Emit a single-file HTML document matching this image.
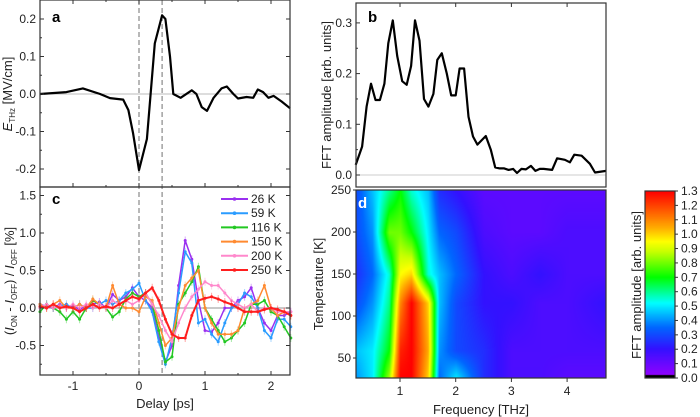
<!DOCTYPE html>
<html><head><meta charset="utf-8"><style>
body{margin:0;background:#fff;width:700px;height:417px;overflow:hidden;position:relative;font-family:"Liberation Sans",sans-serif}
#hm{position:absolute;left:356px;top:190px}
#cb{position:absolute;left:645px;top:191px}
svg{position:absolute;left:0;top:0}
</style></head><body>
<canvas id="hm" width="250" height="188"></canvas>
<canvas id="cb" width="30" height="187"></canvas>
<svg id="s" width="700" height="417" xmlns="http://www.w3.org/2000/svg" font-family="Liberation Sans, sans-serif" font-size="12"></svg>
<script>
// ---- Panel a data ----
const aT=[-1.5,-1.1,-0.85,-0.59,-0.44,-0.24,-0.16,-0.09,0.0,0.12,0.24,0.35,0.4,0.47,0.52,0.63,0.8,0.87,0.95,1.03,1.13,1.25,1.33,1.43,1.5,1.63,1.73,1.8,1.88,1.96,2.04,2.16,2.29];
const aE=[0.0,0.005,0.015,0.0,-0.011,-0.015,-0.043,-0.105,-0.203,-0.12,0.135,0.21,0.2,0.1,0.0,-0.01,0.01,0.0,-0.035,-0.045,-0.01,0.015,0.02,0.0,-0.012,-0.008,-0.01,0.012,0.005,-0.01,-0.005,-0.02,-0.038];
// ---- Panel b data ----
const bF=[0.205,0.32,0.4,0.48,0.56,0.64,0.72,0.79,0.87,0.95,1.04,1.12,1.2,1.27,1.35,1.43,1.51,1.6,1.67,1.75,1.84,1.92,2.0,2.07,2.15,2.23,2.31,2.39,2.54,2.63,2.71,2.79,2.87,2.95,3.03,3.1,3.18,3.26,3.35,3.43,3.51,3.58,3.73,3.82,3.96,4.05,4.13,4.26,4.41,4.5,4.7];
const bA=[0.02,0.056,0.135,0.18,0.148,0.148,0.18,0.26,0.305,0.235,0.185,0.178,0.215,0.305,0.265,0.15,0.135,0.16,0.227,0.24,0.2,0.157,0.157,0.21,0.21,0.115,0.076,0.06,0.077,0.05,0.015,0.013,0.013,0.01,0.012,0.004,0.012,0.011,0.018,0.008,0.012,0.012,0.01,0.033,0.03,0.025,0.04,0.038,0.022,0.005,0.008];
// ---- Panel c data ----
const cT=[-1.5,-1.4,-1.3,-1.2,-1.1,-1.0,-0.9,-0.8,-0.7,-0.6,-0.5,-0.4,-0.3,-0.2,-0.1,0.0,0.1,0.2,0.3,0.4,0.5,0.6,0.7,0.8,0.9,1.0,1.1,1.2,1.3,1.4,1.5,1.6,1.7,1.8,1.9,2.0,2.1,2.2,2.3];
const cLabels=["26 K","59 K","116 K","150 K","200 K","250 K"];
const c26=[0.05,0.02,0.0,0.05,0.0,0.03,-0.02,0.03,0.05,0.08,0.0,0.18,0.1,0.15,0.27,0.15,0.1,0.0,-0.4,-0.72,-0.5,0.3,0.9,0.65,0.1,-0.3,-0.32,-0.2,0.0,0.0,0.1,0.15,0.27,0.0,-0.2,-0.3,-0.1,-0.1,-0.05];
const c59=[0.0,0.05,0.0,0.03,0.05,0.0,0.05,0.0,0.0,0.05,0.1,0.05,0.1,0.2,0.25,0.33,0.1,-0.05,-0.45,-0.75,-0.4,0.2,0.75,0.6,-0.2,-0.15,-0.35,-0.45,-0.2,0.0,0.05,0.2,0.15,0.0,-0.3,-0.4,-0.15,-0.15,-0.25];
const c116=[-0.05,0.05,0.0,-0.05,-0.15,-0.05,-0.15,0.0,0.1,0.05,0.0,-0.12,-0.05,0.12,0.2,0.15,0.2,0.05,-0.3,-0.72,-0.65,0.05,0.2,0.35,0.55,0.0,-0.15,-0.3,-0.45,-0.4,-0.3,-0.2,0.05,0.05,0.1,-0.05,-0.1,-0.25,-0.4];
const c150=[0.05,0.0,0.05,0.1,0.0,0.0,0.05,0.0,0.12,0.05,0.0,0.3,0.05,0.0,0.0,-0.05,0.15,0.1,-0.2,-0.5,-0.4,0.0,0.3,0.4,0.5,0.0,-0.2,-0.35,-0.35,-0.35,-0.3,0.0,0.05,0.1,0.3,0.0,-0.1,-0.05,-0.1];
const c200=[0.0,0.05,0.0,0.03,0.0,0.05,0.0,0.05,0.0,0.05,0.0,0.1,0.05,0.1,0.05,0.1,0.2,0.05,-0.1,-0.3,-0.45,-0.2,0.0,0.15,0.25,0.35,0.3,0.3,0.2,0.1,0.05,0.0,0.05,-0.05,0.0,0.0,-0.05,-0.05,-0.05];
const c250=[0.02,0.0,0.05,0.0,0.02,0.0,-0.05,0.0,0.05,0.0,0.02,0.0,0.05,0.1,0.15,0.12,0.2,0.27,0.1,-0.15,-0.35,-0.4,-0.4,-0.1,0.1,0.13,0.15,0.12,0.08,0.05,0.0,-0.05,-0.05,-0.05,-0.02,0.0,-0.02,-0.05,-0.1];
// ---- Panel d data ----
const dF=[0.2,0.5,0.8,1.0,1.2,1.5,1.7,2.0,2.5,3.0,3.5,4.0,4.7];
const dT=[26,59,116,150,200,250];
const d26=[0.4,0.5,0.85,1.3,1.3,1.0,0.35,0.5,0.25,0.15,0.15,0.12,0.12];
const d59=[0.45,0.5,0.7,1.25,1.3,1.05,0.4,0.3,0.25,0.15,0.15,0.15,0.15];
const d116=[0.3,0.4,0.6,1.1,1.3,1.0,0.45,0.3,0.2,0.2,0.15,0.15,0.2];
const d150=[0.25,0.35,0.55,0.95,1.0,0.55,0.45,0.35,0.2,0.15,0.2,0.15,0.15];
const d200=[0.3,0.4,0.8,0.8,0.7,0.5,0.35,0.3,0.15,0.12,0.12,0.15,0.15];
const d250=[0.3,0.45,0.6,0.7,0.55,0.45,0.25,0.2,0.12,0.12,0.12,0.12,0.12];

const NS="http://www.w3.org/2000/svg", S=document.getElementById('s');
function mk(tag,attrs,parent){const e=document.createElementNS(NS,tag);for(const k in attrs)e.setAttribute(k,attrs[k]);(parent||S).appendChild(e);return e;}
function txt(x,y,s,anchor,name,extra){const e=mk('text',Object.assign({x:x,y:y,'text-anchor':anchor||'middle',fill:'#222'},extra||{}));e.textContent=s;


return e;}

const L1=40,R1=290;
const xT=t=>139+t*66;
const yA=v=>94-v*375;
const yC=v=>308-v*75;
const L2=356,R2=606;
const xF=f=>400+(f-1)*55.7;
const yB=v=>175-v*507;
const yD=T=>190+(250-T)*0.84;

function frame(x0,y0,x1,y1,name){const r=mk('rect',{x:x0,y:y0,width:x1-x0,height:y1-y0,fill:'none',stroke:'#333','stroke-width':1.2});

}
function poly(xs,ys,fx,fy,color,w,name,parent){let d='';for(let i=0;i<xs.length;i++)d+=(i?'L':'M')+fx(xs[i]).toFixed(1)+','+fy(ys[i]).toFixed(1);
const p=mk('path',{d:d,fill:'none',stroke:color,'stroke-width':w,'stroke-linejoin':'round'},parent);

return p;}

// ---- Panel a ----
mk('line',{x1:L1,x2:R1,y1:yA(0),y2:yA(0),stroke:'#bbb','stroke-width':1});
[0,0.35].forEach(t=>{const l=mk('line',{x1:xT(t),x2:xT(t),y1:0,y2:375,stroke:'#888','stroke-dasharray':'5,3','stroke-width':1.2});

});
poly(aT,aE,xT,yA,'#000',2.2,'ethz-trace');
frame(L1,0,R1,187,'panel-a-frame');
[-0.2,-0.1,0,0.1,0.2].forEach(v=>{mk('line',{x1:L1,x2:L1+4,y1:yA(v),y2:yA(v),stroke:'#333'});mk('line',{x1:R1,x2:R1-4,y1:yA(v),y2:yA(v),stroke:'#333'});txt(L1-4,yA(v)+4,v.toFixed(1),'end','y-tick-label-a');});
[-0.15,-0.05,0.05,0.15].forEach(v=>{mk('line',{x1:L1,x2:L1+2,y1:yA(v),y2:yA(v),stroke:'#333'});});
[-1,0,1,2].forEach(t=>{mk('line',{x1:xT(t),x2:xT(t),y1:187,y2:183,stroke:'#333'});mk('line',{x1:xT(t),x2:xT(t),y1:0,y2:4,stroke:'#333'});});
[-0.5,0.5,1.5].forEach(t=>{mk('line',{x1:xT(t),x2:xT(t),y1:187,y2:185,stroke:'#333'});mk('line',{x1:xT(t),x2:xT(t),y1:0,y2:2,stroke:'#333'});});
txt(52,22,'a','start','panel-a-label',{'font-weight':'bold','font-size':15,fill:'#000'});
const ya=txt(0,0,'','middle','y-axis-title-a',{transform:'translate(12,94) rotate(-90)','font-size':13});
ya.innerHTML='<tspan font-style="italic">E</tspan><tspan font-size="8" dy="3">THz</tspan><tspan dy="-3"> [MV/cm]</tspan>';

// ---- Panel c ----
mk('line',{x1:L1,x2:R1,y1:yC(0),y2:yC(0),stroke:'#aaa','stroke-width':1.2});
const series=[c26,c59,c116,c150,c200,c250];
const colors=['#9a30f0','#2a9cff','#22c822','#ff8a30','#ff88cc','#ff1e1e'];
series.forEach((vals,si)=>{const g=mk('g',{});


for(let i=0;i<cT.length;i++){const x=xT(cT[i]),y=yC(vals[i]);mk('line',{x1:x,x2:x,y1:y-4,y2:y+4,stroke:colors[si],'stroke-opacity':0.4},g);}
poly(cT,vals,xT,yC,colors[si],si==5?2:1.5,'line-'+si,g);
for(let i=0;i<cT.length;i++){mk('circle',{cx:xT(cT[i]),cy:yC(vals[i]),r:1.5,fill:colors[si]},g);}
});
frame(L1,187,R1,375,'panel-c-frame');
[-0.5,0,0.5,1.0,1.5].forEach(v=>{mk('line',{x1:L1,x2:L1+4,y1:yC(v),y2:yC(v),stroke:'#333'});mk('line',{x1:R1,x2:R1-4,y1:yC(v),y2:yC(v),stroke:'#333'});txt(L1-4,yC(v)+4,v.toFixed(1),'end','y-tick-label-c');});
[-0.75,-0.25,0.25,0.75,1.25].forEach(v=>{mk('line',{x1:L1,x2:L1+2,y1:yC(v),y2:yC(v),stroke:'#333'});});
[-1,0,1,2].forEach(t=>{mk('line',{x1:xT(t),x2:xT(t),y1:375,y2:371,stroke:'#333'});txt(xT(t),390,String(t),'middle','x-tick-label-c');});
[-0.5,0.5,1.5].forEach(t=>{mk('line',{x1:xT(t),x2:xT(t),y1:375,y2:373,stroke:'#333'});});
txt(165,408,'Delay [ps]','middle','x-axis-title-c',{'font-size':13});
txt(52,204,'c','start','panel-c-label',{'font-weight':'bold','font-size':15,fill:'#000'});
const yc=txt(0,0,'','middle','y-axis-title-c',{transform:'translate(14,281) rotate(-90)','font-size':13});
yc.innerHTML='(<tspan font-style="italic">I</tspan><tspan font-size="8" dy="3">ON</tspan><tspan dy="-3"> - </tspan><tspan font-style="italic">I</tspan><tspan font-size="8" dy="3">OFF</tspan><tspan dy="-3">) / </tspan><tspan font-style="italic">I</tspan><tspan font-size="8" dy="3">OFF</tspan><tspan dy="-3"> [%]</tspan>';
cLabels.forEach((lab,i)=>{const y=199+i*14.2;const g=mk('g',{});


mk('line',{x1:221,x2:248,y1:y,y2:y,stroke:colors[i],'stroke-width':2},g);mk('circle',{cx:234.5,cy:y,r:1.8,fill:colors[i]},g);
const t=txt(251,y+4,lab,'start','legend-label');g.appendChild(t);});

// ---- Panel b ----
mk('line',{x1:L2,x2:R2,y1:yB(0),y2:yB(0),stroke:'#ccc','stroke-width':1});
poly(bF,bA,xF,yB,'#000',2.2,'fft-trace');
frame(L2,3,R2,187,'panel-b-frame');
[0,0.1,0.2,0.3].forEach(v=>{mk('line',{x1:L2,x2:L2+4,y1:yB(v),y2:yB(v),stroke:'#333'});txt(L2-4,yB(v)+4,v.toFixed(1),'end','y-tick-label-b');});
[0.05,0.15,0.25].forEach(v=>{mk('line',{x1:L2,x2:L2+2,y1:yB(v),y2:yB(v),stroke:'#333'});});
[1,2,3,4].forEach(f=>{mk('line',{x1:xF(f),x2:xF(f),y1:3,y2:7,stroke:'#333'});});
txt(368,22,'b','start','panel-b-label',{'font-weight':'bold','font-size':15,fill:'#000'});
txt(0,0,'FFT amplitude [arb. units]','middle','y-axis-title-b',{transform:'translate(331,95) rotate(-90)','font-size':13});

// ---- Panel d heatmap ----
const dRows=[d26,d59,d116,d150,d200,d250];
const cStops=[[0,[153,0,255]],[0.2,[51,17,255]],[0.35,[0,102,255]],[0.52,[0,255,255]],[0.7,[0,255,0]],[0.88,[200,255,0]],[0.95,[255,255,0]],[1.05,[255,170,0]],[1.15,[255,100,0]],[1.3,[255,0,0]]];
function cmap(v){v=Math.max(0,Math.min(1.3,v));for(let i=1;i<cStops.length;i++){if(v<=cStops[i][0]){const a=cStops[i-1],b=cStops[i],u=(v-a[0])/(b[0]-a[0]);return a[1].map((c,k)=>Math.round(c+(b[1][k]-c)*u));}}return cStops[cStops.length-1][1];}
function interp(xs,x){if(x<=xs[0])return 0;for(let i=1;i<xs.length;i++)if(x<=xs[i])return i-1+(x-xs[i-1])/(xs[i]-xs[i-1]);return xs.length-1.0001;}
const hc=document.getElementById('hm').getContext('2d');const img=hc.createImageData(250,188);
for(let py=0;py<188;py++){const T=250-py/0.84;let ti=interp(dT,T);const i0=Math.min(Math.floor(ti),dT.length-2),ut=ti-i0;
for(let px=0;px<250;px++){const f=1+(L2+px-400)/55.7;let fi=interp(dF,f);const j0=Math.min(Math.floor(fi),dF.length-2),uf=fi-j0;
const v=(dRows[i0][j0]*(1-uf)+dRows[i0][j0+1]*uf)*(1-ut)+(dRows[i0+1][j0]*(1-uf)+dRows[i0+1][j0+1]*uf)*ut;
const c=cmap(v),k=(py*250+px)*4;img.data[k]=c[0];img.data[k+1]=c[1];img.data[k+2]=c[2];img.data[k+3]=255;}}
hc.putImageData(img,0,0);
const cc=document.getElementById('cb').getContext('2d');
for(let py=0;py<187;py++){const c=cmap(1.3*(1-py/186));cc.fillStyle='rgb('+c.join(',')+')';cc.fillRect(0,py,30,1);}
cc.fillStyle='#000';cc.fillRect(0,184,30,3);
frame(L2,190,R2,378,'panel-d-frame');
frame(645,191,675,378,'colorbar-frame');
[50,100,150,200,250].forEach(T=>{mk('line',{x1:L2,x2:L2-3,y1:yD(T),y2:yD(T),stroke:'#333'});txt(L2-5,yD(T)+4,String(T),'end','y-tick-label-d');});
[1,2,3,4].forEach(f=>{mk('line',{x1:xF(f),x2:xF(f),y1:378,y2:382,stroke:'#333'});txt(xF(f),395,String(f),'middle','x-tick-label-d');});
txt(481,414,'Frequency [THz]','middle','x-axis-title-d',{'font-size':13});
txt(0,0,'Temperature [K]','middle','y-axis-title-d',{transform:'translate(323,284) rotate(-90)','font-size':13});
txt(358,208,'d','start','panel-d-label',{'font-weight':'bold','font-size':15,fill:'#fff'});
for(let i=0;i<=13;i++){const v=i/10,y=378-v/1.3*187;mk('line',{x1:675,x2:678,y1:y,y2:y,stroke:'#333'});txt(681,y+4,v.toFixed(1),'start','colorbar-tick-label');}
txt(0,0,'FFT amplitude [arb. units]','middle','colorbar-title',{transform:'translate(641,285) rotate(-90)','font-size':13});
</script>
</body></html>
